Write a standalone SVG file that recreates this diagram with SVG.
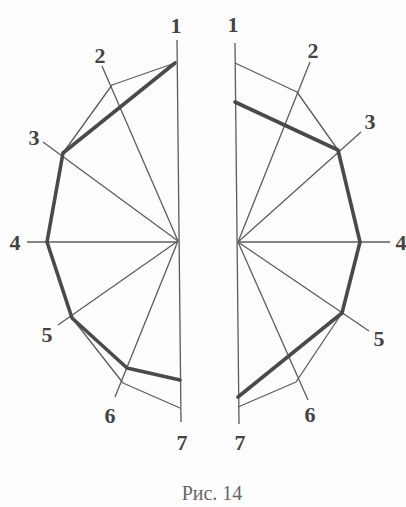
<svg xmlns="http://www.w3.org/2000/svg" width="406" height="507" viewBox="0 0 406 507">
<style>
.thin{fill:none;stroke:#5c5c5c;stroke-width:1.3;stroke-linejoin:round}
.thick{fill:none;stroke:#4a4a4a;stroke-width:3.6;stroke-linejoin:round;stroke-linecap:round}
.lbl{font-family:"Liberation Serif","Times New Roman",serif;font-size:22px;font-weight:bold;fill:#444;text-anchor:middle}
.cap{font-family:"Liberation Serif","Times New Roman",serif;font-size:20px;fill:#666;text-anchor:middle}
</style>
<rect width="406" height="507" fill="#fdfdfd"/>
<g id="left-figure">
  <g id="left-rays" class="thin">
    <line x1="177" y1="40" x2="181" y2="422"/>
    <line x1="178" y1="241" x2="102" y2="66"/>
    <line x1="178" y1="241" x2="43" y2="142"/>
    <line x1="178" y1="242" x2="27" y2="242"/>
    <line x1="178" y1="241" x2="58" y2="325"/>
    <line x1="178" y1="241" x2="115" y2="397"/>
  </g>
  <polyline id="left-thin-polygon" class="thin" points="175,63 112,85 63,153 47,242 72,318 123,383 180,408"/>
  <polyline id="left-thick-polygon" class="thick" points="175,63 63,153 47,242 72,318 127,368 180,380"/>
  <g id="left-labels">
    <text class="lbl" x="176" y="33">1</text>
    <text class="lbl" x="100" y="63">2</text>
    <text class="lbl" x="34" y="145">3</text>
    <text class="lbl" x="15" y="250">4</text>
    <text class="lbl" x="47" y="342">5</text>
    <text class="lbl" x="110" y="423">6</text>
    <text class="lbl" x="182" y="450">7</text>
  </g>
</g>
<g id="right-figure">
  <g id="right-rays" class="thin">
    <line x1="235" y1="43" x2="239" y2="424"/>
    <line x1="238" y1="242" x2="310" y2="62"/>
    <line x1="238" y1="242" x2="361" y2="132"/>
    <line x1="238" y1="242" x2="390" y2="242"/>
    <line x1="238" y1="242" x2="369" y2="331"/>
    <line x1="238" y1="242" x2="308" y2="400"/>
  </g>
  <polyline id="right-thin-polygon" class="thin" points="235,63 297,92 338,150 360,242 342,313 296,382 238,407"/>
  <polyline id="right-thick-polygon" class="thick" points="235,102 338,150 360,242 342,313 238,397"/>
  <g id="right-labels">
    <text class="lbl" x="233" y="32">1</text>
    <text class="lbl" x="313" y="58">2</text>
    <text class="lbl" x="370" y="129">3</text>
    <text class="lbl" x="401" y="250">4</text>
    <text class="lbl" x="379" y="346">5</text>
    <text class="lbl" x="310" y="422">6</text>
    <text class="lbl" x="240" y="450">7</text>
  </g>
</g>
<text id="caption" class="cap" x="212" y="500">Рис. 14</text>
</svg>
